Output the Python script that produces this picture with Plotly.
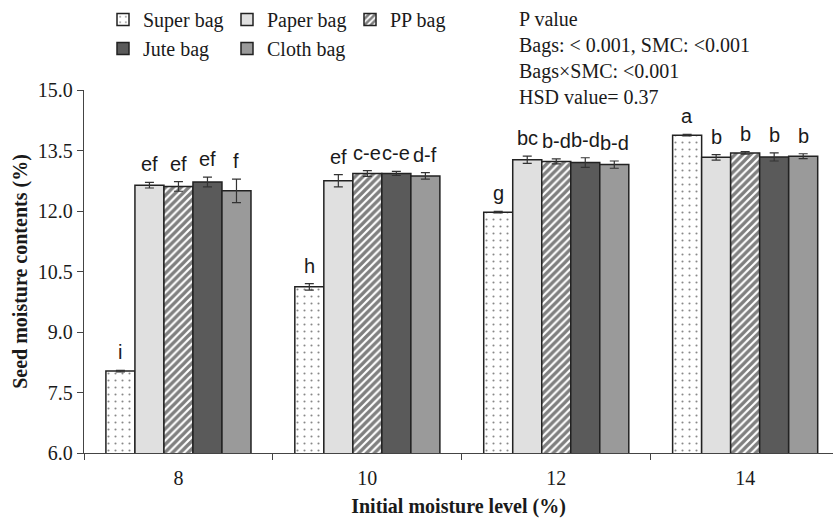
import plotly.graph_objects as go

# Initial seed moisture level (%) for each group of bars
levels = ["8", "10", "12", "14"]

# Final seed moisture content (%) per storage bag, with standard errors
super_bag = [8.03, 10.12, 11.97, 13.88]
super_err = [0.02, 0.08, 0.02, 0.02]
paper_bag = [12.64, 12.75, 13.27, 13.33]
paper_err = [0.07, 0.15, 0.09, 0.07]
pp_bag = [12.61, 12.93, 13.23, 13.44]
pp_err = [0.12, 0.07, 0.06, 0.03]
jute_bag = [12.72, 12.93, 13.20, 13.34]
jute_err = [0.12, 0.05, 0.12, 0.10]
cloth_bag = [12.50, 12.87, 13.15, 13.36]
cloth_err = [0.29, 0.08, 0.09, 0.06]

# Mean separation letters (HSD)
super_lbl = ["i", "h", "g", "a"]
paper_lbl = ["ef", "ef", "bc", "b"]
pp_lbl = ["ef", "c-e", "b-d", "b"]
jute_lbl = ["ef", "c-e", "b-d", "b"]
cloth_lbl = ["f", "d-f", "b-d", "b"]

stats_lines = [
    "P value",
    "Bags: < 0.001, SMC: <0.001",
    "Bags×SMC: <0.001",
    "HSD value= 0.37",
]

SERIF = "Liberation Serif, Times New Roman, serif"
SANS = "Liberation Sans, Arial, sans-serif"
EDGE = "#222222"

series = [
    ("Super bag", super_bag, super_err, super_lbl,
     dict(color="white", pattern=dict(shape=".", fgcolor="#111111", bgcolor="white",
                                      size=7, solidity=0.07, fillmode="overlay")), "legend"),
    ("Paper bag", paper_bag, paper_err, paper_lbl, dict(color="#e0e0e0"), "legend2"),
    ("PP bag", pp_bag, pp_err, pp_lbl,
     dict(color="white", pattern=dict(shape="/", fgcolor="#000000", bgcolor="white",
                                      size=5.5, solidity=0.6, fillmode="overlay")), "legend3"),
    ("Jute bag", jute_bag, jute_err, jute_lbl, dict(color="#5a5a5a"), "legend"),
    ("Cloth bag", cloth_bag, cloth_err, cloth_lbl, dict(color="#9a9a9a"), "legend2"),
]

fig = go.Figure()
for name, vals, errs, _, mk, lg in series:
    fig.add_trace(go.Bar(
        name=name, x=levels, y=vals,
        marker=dict(line=dict(color=EDGE, width=1.5), **mk),
        error_y=dict(type="data", array=errs, visible=True,
                     color="#333333", thickness=1.2, width=4.5),
        legend=lg,
    ))

BARGAP = 0.232
n = len(series)
bw = (1 - BARGAP) / n

W, H = 833, 518
L, R, T, B = 84, 0, 90, 65
pw, ph = W - L - R, H - T - B


def px_x(px):
    return (px - L) / pw


def px_y(py):
    return (H - B - py) / ph


annotations = []
for j, (name, vals, errs, lbls, _, _) in enumerate(series):
    for i, (v, e, t) in enumerate(zip(vals, errs, lbls)):
        annotations.append(dict(
            x=i + (j - (n - 1) / 2) * bw, y=v + e, xref="x", yref="y",
            text=t, showarrow=False, yanchor="bottom", yshift=5,
            font=dict(family=SANS, size=20, color="#1a1a1a"),
        ))

annotations.append(dict(
    x=px_x(517), y=px_y(6), xref="paper", yref="paper",
    text="<br>".join(stats_lines), showarrow=False, align="left",
    xanchor="left", yanchor="top",
    font=dict(family=SERIF, size=20, color="#1a1a1a"),
))

legend_common = dict(
    orientation="v", yanchor="top", xanchor="left",
    font=dict(family=SERIF, size=20, color="#1a1a1a"),
    bgcolor="rgba(0,0,0,0)", borderwidth=0, itemclick=False,
)

fig.update_layout(
    width=W, height=H,
    margin=dict(l=L, r=R, t=T, b=B, pad=0),
    paper_bgcolor="white", plot_bgcolor="white",
    barmode="group", bargap=BARGAP, bargroupgap=0,
    showlegend=True,
    legend=dict(x=px_x(103), y=px_y(0), **legend_common),
    legend2=dict(x=px_x(227), y=px_y(0), **legend_common),
    legend3=dict(x=px_x(350), y=px_y(0), **legend_common),
    annotations=annotations,
    font=dict(family=SERIF, size=20, color="#1a1a1a"),
)

fig.update_xaxes(
    type="category", range=[-0.5, 3.465], tickson="boundaries",
    showline=True, linecolor="#444444", linewidth=1.3,
    ticks="outside", ticklen=6, tickcolor="#444444", tickwidth=1.3,
    ticklabelstandoff=7,
    showgrid=False, zeroline=False,
    tickfont=dict(family=SERIF, size=20, color="#1a1a1a"),
    title=dict(text="<b>Initial moisture level (%)</b>", standoff=14,
               font=dict(family=SERIF, size=20, color="#1a1a1a")),
)
fig.update_yaxes(
    range=[6, 15], tickvals=[6, 7.5, 9, 10.5, 12, 13.5, 15],
    tickformat=".1f",
    showline=True, linecolor="#444444", linewidth=1.3,
    ticks="outside", ticklen=6, tickcolor="#444444", tickwidth=1.3,
    showgrid=False, zeroline=False,
    tickfont=dict(family=SERIF, size=20, color="#1a1a1a"),
    title=dict(text="<b>Seed moisture contents (%)</b>", standoff=4,
               font=dict(family=SERIF, size=20, color="#1a1a1a")),
)

fig.write_html("out.html")
